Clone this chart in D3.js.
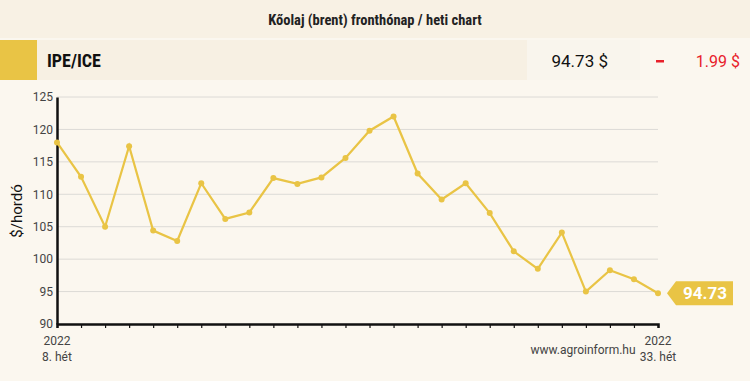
<!DOCTYPE html>
<html>
<head>
<meta charset="utf-8">
<script src="https://cdn.jsdelivr.net/npm/d3@7"></script>
<style>
  body { margin: 0; background: #fbf7ef; }
  svg { display: block; }
  text { font-family: Roboto, sans-serif; }
</style>
</head>
<body>
<svg width="750" height="381"></svg>
<script>
// weekly brent front-month close, 2022 week 8 .. 33
var weeks = d3.range(8, 34)
var prices = [118.0, 112.7, 105.0, 117.4, 104.4, 102.8, 111.7, 106.2, 107.2, 112.5,
              111.6, 112.6, 115.6, 119.8, 122.0, 113.2, 109.2, 111.7, 107.1, 101.2,
              98.5, 104.1, 95.0, 98.3, 96.9, 94.73]
var yTicks = [90, 95, 100, 105, 110, 115, 120, 125]
var title = "Kőolaj (brent) fronthónap / heti chart"
var market = "IPE/ICE"
var lastPrice = "94.73 $"
var change = "1.99 $"
var yLabel = "$/hordó"
var gold = "#e9c445"
var narrow = '"Roboto Condensed", "Liberation Sans Narrow", Roboto, sans-serif'

var svg = d3.select("svg")

// background + header
svg.append("rect").attr("width", 750).attr("height", 381).attr("fill", "#fbf7ef")
svg.append("rect").attr("x", 0).attr("y", 0).attr("width", 750).attr("height", 38).attr("fill", "#f8f1e4")
svg.append("text").attr("x", 375).attr("y", 25).attr("text-anchor", "middle")
    .attr("font-size", 14.5).attr("font-weight", "bold").attr("fill", "#222")
    .style("font-family", narrow).text(title)

svg.append("rect").attr("x", 37).attr("y", 40).attr("width", 603).attr("height", 40).attr("fill", "#f7f0e3")
svg.append("rect").attr("x", 527).attr("y", 40).attr("width", 113).attr("height", 40).attr("fill", "#f9f5ed")
svg.append("rect").attr("x", 0).attr("y", 40).attr("width", 37).attr("height", 40).attr("fill", gold)
svg.append("text").attr("x", 47).attr("y", 67).attr("font-size", 18).attr("font-weight", "bold")
    .attr("fill", "#111").style("font-family", narrow).text(market)
svg.append("text").attr("x", 608).attr("y", 67).attr("text-anchor", "end").attr("font-size", 17)
    .attr("fill", "#111").text(lastPrice)
svg.append("rect").attr("x", 656).attr("y", 60).attr("width", 8).attr("height", 2.5).attr("fill", "#e8202a")
svg.append("text").attr("x", 740).attr("y", 67).attr("text-anchor", "end").attr("font-size", 16)
    .attr("fill", "#e8202a").text(change)

// plot
var x = d3.scaleLinear().domain([8, 33]).range([57, 658])
var y = d3.scaleLinear().domain([90, 125]).range([324, 97])

svg.append("g").selectAll("line").data(yTicks.slice(1)).join("line")
    .attr("x1", 57).attr("x2", 658)
    .attr("y1", d => y(d)).attr("y2", d => y(d))
    .attr("stroke", "#dcdad6").attr("stroke-width", 1)

var yAxis = svg.append("g").attr("transform", "translate(57,0)")
    .call(d3.axisLeft(y).tickValues(yTicks).tickSize(0).tickPadding(4))
yAxis.select(".domain").attr("stroke", "#111").attr("stroke-width", 2.5)
yAxis.selectAll("text").attr("font-size", 12).attr("fill", "#444")
    .style("font-family", "Roboto, sans-serif")

var xAxis = svg.append("g").attr("transform", "translate(0,324)")
    .call(d3.axisBottom(x).tickValues(weeks).tickSize(4).tickFormat(""))
xAxis.select(".domain").attr("stroke", "#111").attr("stroke-width", 2.5)
xAxis.selectAll(".tick line").attr("stroke", "#111").attr("stroke-width", 1.2)

svg.append("text").attr("transform", "translate(22,211) rotate(-90)")
    .attr("text-anchor", "middle").attr("font-size", 15).attr("fill", "#111").text(yLabel)

var line = d3.line().x((d, i) => x(weeks[i])).y(d => y(d))
svg.append("path").datum(prices).attr("d", line)
    .attr("fill", "none").attr("stroke", gold).attr("stroke-width", 2.2)
svg.append("g").selectAll("circle").data(prices).join("circle")
    .attr("cx", (d, i) => x(weeks[i])).attr("cy", d => y(d)).attr("r", 3)
    .attr("fill", gold)

// end label
var lx = x(weeks[weeks.length - 1]), ly = y(prices[prices.length - 1])
svg.append("path")
    .attr("d", "M" + (lx + 9) + "," + ly + " L" + (lx + 18) + "," + (ly - 12) + " L" + (lx + 75) + "," + (ly - 12) +
               " L" + (lx + 75) + "," + (ly + 12) + " L" + (lx + 18) + "," + (ly + 12) + " Z")
    .attr("fill", gold)
svg.append("text").attr("x", lx + 47).attr("y", ly + 6).attr("text-anchor", "middle")
    .attr("font-size", 17).attr("font-weight", "bold").attr("fill", "#fff").text("94.73")

// bottom labels
var bottom = svg.append("g").attr("font-size", 12).attr("fill", "#444").attr("text-anchor", "middle")
bottom.append("text").attr("x", x(8)).attr("y", 345).text("2022")
bottom.append("text").attr("x", x(8)).attr("y", 361).text(weeks[0] + ". hét")
bottom.append("text").attr("x", x(33)).attr("y", 345).text("2022")
bottom.append("text").attr("x", x(33)).attr("y", 361).text(weeks[weeks.length - 1] + ". hét")
bottom.append("text").attr("x", 583).attr("y", 354).text("www.agroinform.hu")
</script>
</body>
</html>
